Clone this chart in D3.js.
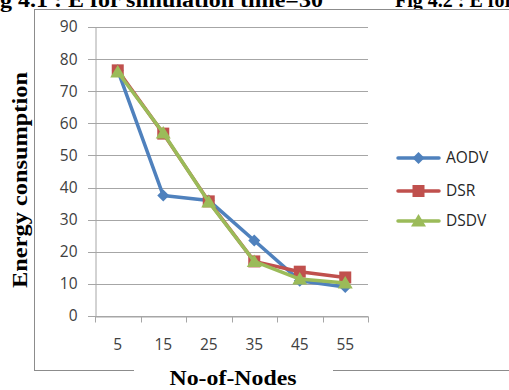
<!DOCTYPE html>
<html><head><meta charset="utf-8">
<script src="https://cdn.jsdelivr.net/npm/d3@7"></script>
<style>body{margin:0;background:#fff;overflow:hidden}svg{display:block}</style>
</head><body>
<svg id="c" width="509" height="390"></svg>
<script>
const categories = ["5","15","25","35","45","55"];
const aodv = [76.5, 37.5, 36, 23.5, 11, 9];
const dsr  = [76.5, 56.8, 35.7, 17, 13.8, 12];
const dsdv = [76, 57, 35.5, 17, 11.5, 10.3];
const yTicks = [0,10,20,30,40,50,60,70,80,90];
const seriesNames = ["AODV","DSR","DSDV"];
const colors = ["#4F81BD","#C0504D","#9BBB59"];
const seriesVals = [aodv, dsr, dsdv];

const svg = d3.select("#c");
// caption fragments at top (clipped, as in the reference)
svg.append("text").attr("x",0).attr("y",7).attr("font-family","Liberation Serif").attr("font-weight","bold").attr("font-size",20).attr("textLength",323).attr("lengthAdjust","spacingAndGlyphs").text("g 4.1 : E for simulation time=30");
svg.append("text").attr("x",395).attr("y",7).attr("font-family","Liberation Serif").attr("font-weight","bold").attr("font-size",20).text("Fig 4.2 : E for");

// frame
svg.append("rect").attr("x",34.5).attr("y",9.5).attr("width",520).attr("height",361).attr("fill","#fff").attr("stroke","#8c8c8c").attr("stroke-width",1);

const x = d3.scaleBand().domain(categories).range([95,368]);
const y = d3.scaleLinear().domain([0,90]).range([316,27]);

// gridlines
svg.append("g").selectAll("line").data(yTicks).join("line")
  .attr("x1",88).attr("x2",368).attr("y1",d=>Math.round(y(d))+0.5).attr("y2",d=>Math.round(y(d))+0.5)
  .attr("stroke","#a6a6a6").attr("stroke-width",1);

// y axis
const ya = svg.append("g").attr("transform","translate(95.5,0)")
  .call(d3.axisLeft(y).tickValues(yTicks).tickSize(0).tickPadding(18));
ya.select(".domain").attr("stroke","#a6a6a6");
ya.selectAll("text").attr("font-family","Open Sans").attr("font-size",15.5).attr("fill","#404040");

// x axis
const xa = svg.append("g").attr("transform","translate(0,"+(Math.round(y(0))+0.5)+")")
  .call(d3.axisBottom(x).tickSizeOuter(0).tickSize(0).tickPadding(22));
xa.select(".domain").attr("stroke","#a6a6a6");
xa.selectAll("text").attr("font-family","Open Sans").attr("font-size",15.5).attr("fill","#404040");
const xb = [95,...categories.map(c=>x(c)+x.bandwidth())];
xa.selectAll("line.tk").data(xb).join("line").attr("class","tk")
  .attr("x1",d=>Math.round(d)+0.5).attr("x2",d=>Math.round(d)+0.5).attr("y1",0).attr("y2",6)
  .attr("stroke","#a6a6a6");

const line = d3.line().x((d,i)=>x(categories[i])+x.bandwidth()/2).y(d=>y(d));

function marker(g, k, cx, cy, col){
  if(k===0){
    g.append("path").attr("d",`M${cx},${cy-6}L${cx+6},${cy}L${cx},${cy+6}L${cx-6},${cy}Z`).attr("fill",col);
  } else if(k===1){
    g.append("rect").attr("x",cx-6).attr("y",cy-6).attr("width",12).attr("height",12).attr("fill",col);
  } else {
    g.append("path").attr("d",`M${cx},${cy-7}L${cx+7.5},${cy+5.5}L${cx-7.5},${cy+5.5}Z`).attr("fill",col);
  }
}

[0,1,2].forEach(k=>{
  const g = svg.append("g");
  g.append("path").datum(seriesVals[k]).attr("d",line).attr("fill","none")
    .attr("stroke",colors[k]).attr("stroke-width",3.5).attr("stroke-linejoin","round");
  seriesVals[k].forEach((v,i)=>marker(g,k,x(categories[i])+x.bandwidth()/2,y(v),colors[k]));
});

// legend
const ly = [158,191,221];
seriesNames.forEach((n,k)=>{
  const g = svg.append("g");
  g.append("line").attr("x1",398).attr("x2",439).attr("y1",ly[k]).attr("y2",ly[k])
    .attr("stroke",colors[k]).attr("stroke-width",3.5).attr("stroke-linecap","round");
  marker(g,k,418.5,ly[k],colors[k]);
  g.append("text").attr("x",446).attr("y",ly[k]).attr("dy","0.35em")
    .attr("font-family","Open Sans").attr("font-size",15.5).attr("fill","#262626").text(n);
});

// axis titles
svg.append("rect").attr("x",134).attr("y",366).attr("width",199).attr("height",10).attr("fill","#fff");
svg.append("text").attr("x",233).attr("y",385).attr("text-anchor","middle")
  .attr("font-family","Liberation Serif").attr("font-weight","bold").attr("font-size",21)
  .attr("textLength",127).attr("lengthAdjust","spacingAndGlyphs").text("No-of-Nodes");
svg.append("text").attr("transform","translate(27,180) rotate(-90)").attr("text-anchor","middle")
  .attr("font-family","Liberation Serif").attr("font-weight","bold").attr("font-size",22)
  .attr("textLength",216).attr("lengthAdjust","spacingAndGlyphs").text("Energy consumption");
</script>
</body></html>
